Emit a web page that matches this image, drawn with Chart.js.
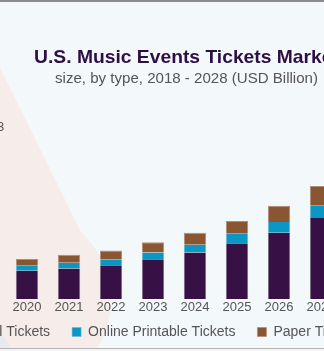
<!DOCTYPE html>
<html>
<head>
<meta charset="utf-8">
<script src="https://cdn.jsdelivr.net/npm/chart.js@4/dist/chart.umd.min.js"></script>
<style>
  html, body { margin: 0; padding: 0; width: 324px; height: 351px; overflow: hidden; background: #f3f8fb; }
  #wrap { position: relative; width: 324px; height: 351px; overflow: hidden; }
  #c { position: absolute; left: -78px; top: 0; }
</style>
</head>
<body>
<div id="wrap"><canvas id="c" width="462" height="351"></canvas></div>
<script>
// U.S. music events tickets market size, by type (USD Billion)
const years = ['2018', '2019', '2020', '2021', '2022', '2023', '2024', '2025', '2026', '2027', '2028'];
const digitalTickets = [2.40, 2.62, 2.80, 3.03, 3.33, 3.93, 4.60, 5.53, 6.57, 8.03, 9.70];
const onlinePrintableTickets = [0.45, 0.48, 0.50, 0.57, 0.60, 0.67, 0.77, 0.94, 1.06, 1.20, 1.40];
const paperTickets = [0.60, 0.64, 0.67, 0.77, 0.87, 1.03, 1.20, 1.26, 1.60, 1.97, 2.35];
const seriesNames = ['Digital Tickets', 'Online Printable Tickets', 'Paper Tickets'];

const titleText = 'U.S. Music Events Tickets Market';
const subtitleText = 'size, by type, 2018 - 2028 (USD Billion)';

const SHIFT = 78; // canvas sits this far left of the page edge
const FONT = '"Liberation Sans", Arial, sans-serif';

// pick a font size so a line of text spans the given width
function fitFont(ctx, text, weight, width, base) {
  ctx.font = weight + ' ' + base + 'px ' + FONT;
  const size = base * width / ctx.measureText(text).width;
  ctx.font = weight + ' ' + size.toFixed(2) + 'px ' + FONT;
}

// Page background, decorative shapes and the heading
const backdrop = {
  id: 'backdrop',
  beforeDraw(chart) {
    const ctx = chart.ctx;
    ctx.save();
    ctx.translate(SHIFT, 0);
    ctx.fillStyle = '#f3f8fb';
    ctx.fillRect(-SHIFT, 0, chart.width, chart.height);

    // pale pink pin-like shape on the left
    ctx.fillStyle = '#f6ecea';
    ctx.beginPath();
    ctx.moveTo(-200, -60);
    ctx.lineTo(16 + 0.492 * (-160), -60);
    ctx.lineTo(16 + 0.492 * 170, 270);
    ctx.lineTo(20, 300);
    ctx.lineTo(-200, 300);
    ctx.closePath();
    ctx.fill();
    ctx.beginPath();
    ctx.arc(20, 300, 91, 0, Math.PI * 2);
    ctx.fill();

    // grey disc in the lower-left corner
    ctx.fillStyle = '#e7eaef';
    ctx.beginPath();
    ctx.arc(-45, 375, 62, 0, Math.PI * 2);
    ctx.fill();

    // frame lines
    ctx.fillStyle = '#8c8c8c';
    ctx.fillRect(-SHIFT, 0, chart.width, 2);
    ctx.fillStyle = '#b4b4b4';
    ctx.fillRect(-SHIFT, 348, chart.width, 1);
    ctx.fillStyle = '#f5f5f5';
    ctx.fillRect(-SHIFT, 349, chart.width, 2);

    // heading
    ctx.textAlign = 'center';
    ctx.textBaseline = 'alphabetic';
    ctx.fillStyle = '#2e0f45';
    fitFont(ctx, titleText, 'bold', 305, 18);
    ctx.fillText(titleText, 186.5, 63);
    ctx.fillStyle = '#555555';
    fitFont(ctx, subtitleText, 'normal', 263, 14);
    ctx.fillText(subtitleText, 186.5, 83);

    ctx.textAlign = 'left';
    ctx.textBaseline = 'middle';
    ctx.font = '13px ' + FONT;
    ctx.fillText('3', -3, 127);
    ctx.restore();
  }
};

const ctx = document.getElementById('c').getContext('2d');
new Chart(ctx, {
  type: 'bar',
  data: {
    labels: years,
    datasets: [
      { label: seriesNames[0], data: digitalTickets, backgroundColor: '#371046', borderColor: '#7a6583',
        borderWidth: { left: 1, right: 1, top: 0, bottom: 0 } },
      { label: seriesNames[1], data: onlinePrintableTickets, backgroundColor: '#0a97c4', borderColor: '#6ab4cf',
        borderWidth: { left: 1, right: 1, top: 0, bottom: 0 } },
      { label: seriesNames[2], data: paperTickets, backgroundColor: '#8a5531', borderColor: '#b08d78',
        borderWidth: { left: 1, right: 1, top: 1, bottom: 0 } }
    ]
  },
  options: {
    responsive: false,
    animation: false,
    devicePixelRatio: 1,
    layout: { padding: { top: 97, bottom: 2, left: 0, right: 0 } },
    datasets: { bar: { barPercentage: 0.53, categoryPercentage: 1.0, borderSkipped: false } },
    scales: {
      x: {
        stacked: true,
        grid: { display: false, drawTicks: false },
        border: { display: false },
        ticks: { color: '#555555', mirror: true, padding: -16, font: { family: FONT, size: 13 }, maxRotation: 0, autoSkip: false },
        afterFit(scale) { scale.height = 4; }
      },
      y: {
        stacked: true,
        display: false,
        min: 0,
        max: 20
      }
    },
    plugins: {
      legend: {
        position: 'bottom',
        labels: {
          boxWidth: 9,
          boxHeight: 9,
          padding: 22,
          color: '#555555',
          font: { family: FONT, size: 14 }
        }
      },
      tooltip: { enabled: false }
    }
  },
  plugins: [backdrop]
});
</script>
</body>
</html>
